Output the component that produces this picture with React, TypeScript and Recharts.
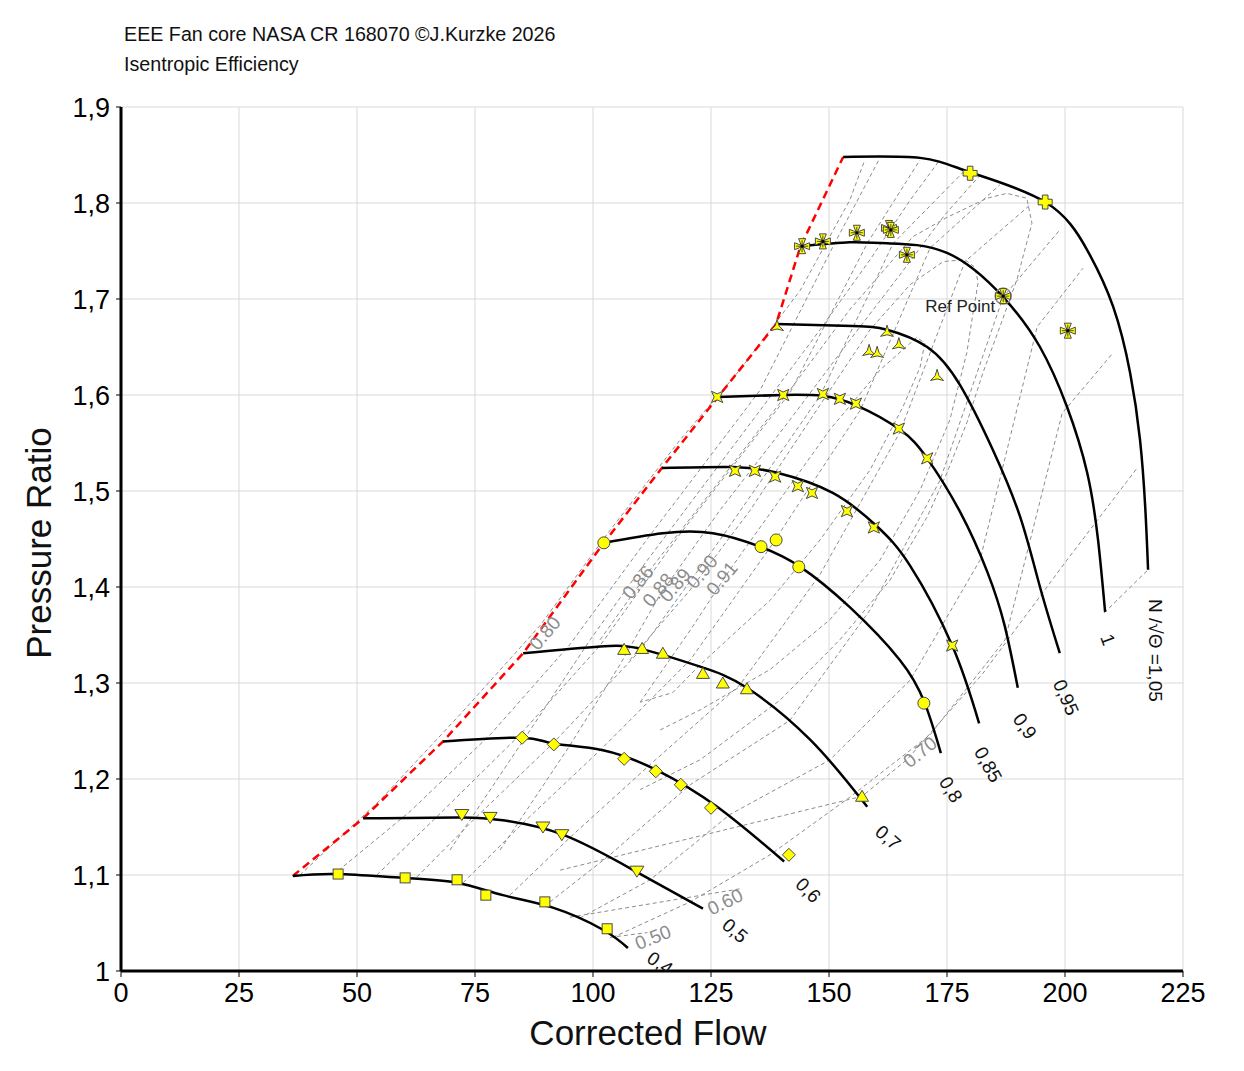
import React from "react";
import { ComposedChart, Line, Scatter, XAxis, YAxis, CartesianGrid } from "recharts";

type P = { x: number; y: number };
type L = { x: number; y: number; text: string };

const FONT = "'Liberation Sans', Arial, sans-serif";

// speed lines N/sqrt(theta)
const speed040: P[] = [
  { x: 36.4, y: 1.099 }, { x: 45.8, y: 1.101 }, { x: 59.7, y: 1.097 }, { x: 71.2, y: 1.092 },
  { x: 80.9, y: 1.079 }, { x: 91.5, y: 1.066 }, { x: 102.1, y: 1.043 }, { x: 107.4, y: 1.024 },
];
const speed050: P[] = [
  { x: 51.3, y: 1.159 }, { x: 72.2, y: 1.160 }, { x: 80.9, y: 1.157 }, { x: 93.6, y: 1.142 },
  { x: 109.3, y: 1.103 }, { x: 123.3, y: 1.065 },
];
const speed060: P[] = [
  { x: 68.2, y: 1.239 }, { x: 85.0, y: 1.243 }, { x: 91.5, y: 1.237 }, { x: 102.1, y: 1.230 },
  { x: 113.6, y: 1.209 }, { x: 126.3, y: 1.171 }, { x: 140.5, y: 1.114 },
];
const speed070: P[] = [
  { x: 85.2, y: 1.331 }, { x: 101.5, y: 1.338 }, { x: 110.6, y: 1.335 }, { x: 122.7, y: 1.317 },
  { x: 132.6, y: 1.295 }, { x: 146.0, y: 1.241 }, { x: 158.1, y: 1.171 },
];
const speed080: P[] = [
  { x: 102.3, y: 1.446 }, { x: 114.8, y: 1.456 }, { x: 125.4, y: 1.456 }, { x: 135.4, y: 1.442 },
  { x: 143.9, y: 1.421 }, { x: 154.4, y: 1.379 }, { x: 165.0, y: 1.324 }, { x: 170.3, y: 1.279 },
  { x: 173.7, y: 1.227 },
];
const speed085: P[] = [
  { x: 114.6, y: 1.524 }, { x: 129.7, y: 1.525 }, { x: 139.0, y: 1.519 }, { x: 150.8, y: 1.498 },
  { x: 160.2, y: 1.463 }, { x: 167.2, y: 1.422 }, { x: 176.1, y: 1.339 }, { x: 181.8, y: 1.258 },
];
const speed090: P[] = [
  { x: 126.5, y: 1.598 }, { x: 140.3, y: 1.600 }, { x: 148.7, y: 1.599 }, { x: 155.9, y: 1.589 },
  { x: 165.0, y: 1.564 }, { x: 170.8, y: 1.534 }, { x: 177.8, y: 1.478 }, { x: 183.6, y: 1.415 },
  { x: 187.2, y: 1.360 }, { x: 190.0, y: 1.295 },
];
const speed095: P[] = [
  { x: 138.8, y: 1.674 }, { x: 155.0, y: 1.672 }, { x: 162.3, y: 1.668 }, { x: 170.8, y: 1.650 },
  { x: 177.8, y: 1.610 }, { x: 184.7, y: 1.543 }, { x: 190.5, y: 1.473 }, { x: 194.7, y: 1.400 },
  { x: 198.9, y: 1.331 },
];
const speed100: P[] = [
  { x: 144.3, y: 1.755 }, { x: 154.4, y: 1.759 }, { x: 162.3, y: 1.758 }, { x: 175.0, y: 1.748 },
  { x: 186.9, y: 1.702 }, { x: 194.7, y: 1.650 }, { x: 200.4, y: 1.588 }, { x: 204.7, y: 1.519 },
  { x: 207.0, y: 1.449 }, { x: 208.5, y: 1.374 },
];
const speed105: P[] = [
  { x: 153.0, y: 1.848 }, { x: 169.3, y: 1.847 }, { x: 179.9, y: 1.832 }, { x: 195.8, y: 1.801 },
  { x: 204.7, y: 1.751 }, { x: 210.2, y: 1.692 }, { x: 213.8, y: 1.623 }, { x: 215.9, y: 1.553 },
  { x: 217.0, y: 1.483 }, { x: 217.6, y: 1.418 },
];

const surgeLine: P[] = [
  { x: 36.4, y: 1.099 }, { x: 51.3, y: 1.159 }, { x: 68.2, y: 1.239 }, { x: 85.2, y: 1.331 },
  { x: 102.3, y: 1.446 }, { x: 114.6, y: 1.524 }, { x: 126.5, y: 1.598 }, { x: 138.8, y: 1.674 },
  { x: 143.9, y: 1.754 }, { x: 153.0, y: 1.848 },
];

// beta lines (gray dashed)
const beta1: P[] = [
  { x: 44.9, y: 1.100 }, { x: 61.2, y: 1.166 }, { x: 78.2, y: 1.246 }, { x: 95.1, y: 1.340 },
  { x: 112.1, y: 1.454 }, { x: 135.4, y: 1.605 }, { x: 151.3, y: 1.759 }, { x: 160.8, y: 1.847 },
];
const beta2: P[] = [
  { x: 54.2, y: 1.100 }, { x: 67.6, y: 1.164 }, { x: 84.5, y: 1.246 }, { x: 101.5, y: 1.339 },
  { x: 118.4, y: 1.455 }, { x: 141.7, y: 1.602 }, { x: 158.1, y: 1.758 }, { x: 169.3, y: 1.845 },
];
const beta3: P[] = [
  { x: 62.7, y: 1.098 }, { x: 75.0, y: 1.159 }, { x: 91.9, y: 1.239 }, { x: 110.0, y: 1.334 },
  { x: 126.9, y: 1.449 }, { x: 148.1, y: 1.599 }, { x: 163.6, y: 1.758 }, { x: 178.4, y: 1.832 },
];
const beta4: P[] = [
  { x: 72.5, y: 1.092 }, { x: 84.5, y: 1.151 }, { x: 101.5, y: 1.230 }, { x: 120.6, y: 1.324 },
  { x: 137.5, y: 1.441 }, { x: 156.6, y: 1.584 }, { x: 171.4, y: 1.753 }, { x: 186.2, y: 1.819 },
];
const beta5: P[] = [
  { x: 82.4, y: 1.079 }, { x: 95.1, y: 1.139 }, { x: 112.1, y: 1.215 }, { x: 131.1, y: 1.298 },
  { x: 148.1, y: 1.413 }, { x: 165.0, y: 1.561 }, { x: 178.8, y: 1.739 }, { x: 192.6, y: 1.798 },
];
const beta6: P[] = [
  { x: 90.9, y: 1.072 }, { x: 103.6, y: 1.121 }, { x: 120.6, y: 1.194 }, { x: 141.7, y: 1.261 },
  { x: 158.7, y: 1.376 }, { x: 173.5, y: 1.511 }, { x: 186.9, y: 1.702 }, { x: 198.9, y: 1.772 },
];
const beta7: P[] = [
  { x: 97.2, y: 1.055 }, { x: 112.1, y: 1.095 }, { x: 129.0, y: 1.163 }, { x: 150.2, y: 1.220 },
  { x: 167.2, y: 1.303 }, { x: 182.0, y: 1.428 }, { x: 194.1, y: 1.671 }, { x: 203.8, y: 1.732 },
];
const beta8: P[] = [
  { x: 104.2, y: 1.035 }, { x: 120.6, y: 1.072 }, { x: 137.5, y: 1.121 }, { x: 154.4, y: 1.181 },
  { x: 171.4, y: 1.246 }, { x: 187.3, y: 1.345 }, { x: 199.4, y: 1.581 }, { x: 210.2, y: 1.644 },
];
const betaEnd: P[] = [{ x: 208.3, y: 1.373 }, { x: 217.6, y: 1.418 }];

// efficiency contours (gray dashed)
const eff050: P[] = [{ x: 103.6, y: 1.035 }, { x: 111.5, y: 1.040 }];
const eff060: P[] = [{ x: 95.1, y: 1.056 }, { x: 131.6, y: 1.086 }];
const eff070: P[] = [
  { x: 93.0, y: 1.105 }, { x: 157.0, y: 1.182 }, { x: 166.5, y: 1.220 }, { x: 182.6, y: 1.310 },
  { x: 200.4, y: 1.428 }, { x: 215.3, y: 1.524 },
];
const eff080: P[] = [
  { x: 37.9, y: 1.100 }, { x: 54.9, y: 1.178 }, { x: 71.8, y: 1.267 }, { x: 88.8, y: 1.360 },
  { x: 103.6, y: 1.459 }, { x: 118.4, y: 1.553 }, { x: 131.1, y: 1.626 }, { x: 143.9, y: 1.709 },
  { x: 154.4, y: 1.803 }, { x: 157.6, y: 1.845 },
];
const eff086: P[] = [
  { x: 69.7, y: 1.126 }, { x: 86.7, y: 1.251 }, { x: 99.4, y: 1.345 }, { x: 110.0, y: 1.418 },
  { x: 122.7, y: 1.501 }, { x: 135.4, y: 1.584 }, { x: 148.1, y: 1.668 }, { x: 158.7, y: 1.741 },
  { x: 167.2, y: 1.803 }, { x: 173.5, y: 1.845 },
];
const eff088: P[] = [
  { x: 80.3, y: 1.126 }, { x: 95.1, y: 1.235 }, { x: 105.7, y: 1.319 }, { x: 114.2, y: 1.392 },
  { x: 126.9, y: 1.480 }, { x: 141.7, y: 1.574 }, { x: 154.4, y: 1.657 }, { x: 165.0, y: 1.725 },
  { x: 174.6, y: 1.788 }, { x: 182.0, y: 1.829 },
];
const eff089: P[] = [
  { x: 101.5, y: 1.345 }, { x: 112.1, y: 1.418 }, { x: 126.9, y: 1.511 }, { x: 141.7, y: 1.605 },
  { x: 154.4, y: 1.689 }, { x: 167.8, y: 1.765 }, { x: 175.0, y: 1.785 }, { x: 183.5, y: 1.805 },
  { x: 187.7, y: 1.810 }, { x: 191.9, y: 1.805 }, { x: 193.0, y: 1.779 }, { x: 189.8, y: 1.720 },
  { x: 186.2, y: 1.671 }, { x: 182.6, y: 1.623 }, { x: 179.2, y: 1.571 }, { x: 175.0, y: 1.519 },
  { x: 170.8, y: 1.473 }, { x: 162.9, y: 1.407 }, { x: 152.3, y: 1.345 }, { x: 139.6, y: 1.282 },
  { x: 122.7, y: 1.220 }, { x: 110.0, y: 1.189 },
];
const eff090: P[] = [
  { x: 107.8, y: 1.324 }, { x: 120.6, y: 1.397 }, { x: 133.3, y: 1.480 }, { x: 146.0, y: 1.574 },
  { x: 158.7, y: 1.668 }, { x: 167.2, y: 1.715 }, { x: 174.2, y: 1.739 }, { x: 178.8, y: 1.741 },
  { x: 180.9, y: 1.733 }, { x: 181.6, y: 1.717 }, { x: 180.5, y: 1.685 }, { x: 179.2, y: 1.644 },
  { x: 175.6, y: 1.574 }, { x: 169.3, y: 1.501 }, { x: 160.8, y: 1.428 }, { x: 150.2, y: 1.366 },
  { x: 137.5, y: 1.314 }, { x: 122.7, y: 1.272 }, { x: 114.2, y: 1.251 },
];
const eff091: P[] = [
  { x: 110.0, y: 1.280 }, { x: 120.6, y: 1.355 }, { x: 129.0, y: 1.418 }, { x: 139.6, y: 1.491 },
  { x: 150.2, y: 1.564 }, { x: 160.8, y: 1.626 }, { x: 168.6, y: 1.660 }, { x: 170.3, y: 1.654 },
  { x: 169.3, y: 1.629 }, { x: 165.7, y: 1.588 }, { x: 158.7, y: 1.522 }, { x: 148.1, y: 1.449 },
  { x: 137.5, y: 1.386 }, { x: 122.7, y: 1.319 }, { x: 116.9, y: 1.290 }, { x: 110.0, y: 1.280 },
];

// measured points per speed
const pts040: P[] = [
  { x: 46.0, y: 1.101 }, { x: 60.2, y: 1.097 }, { x: 71.2, y: 1.095 }, { x: 77.3, y: 1.079 },
  { x: 89.8, y: 1.072 }, { x: 103.0, y: 1.044 },
];
const pts050: P[] = [
  { x: 72.2, y: 1.163 }, { x: 78.2, y: 1.160 }, { x: 89.4, y: 1.150 }, { x: 93.4, y: 1.142 },
  { x: 109.3, y: 1.104 },
];
const pts060: P[] = [
  { x: 85.0, y: 1.243 }, { x: 91.7, y: 1.236 }, { x: 106.6, y: 1.221 }, { x: 113.3, y: 1.208 },
  { x: 118.6, y: 1.194 }, { x: 125.0, y: 1.170 }, { x: 141.5, y: 1.121 },
];
const pts070: P[] = [
  { x: 106.6, y: 1.335 }, { x: 110.4, y: 1.336 }, { x: 114.8, y: 1.331 }, { x: 123.3, y: 1.310 },
  { x: 127.5, y: 1.300 }, { x: 132.6, y: 1.294 }, { x: 157.0, y: 1.182 },
];
const pts080: P[] = [
  { x: 102.3, y: 1.446 }, { x: 135.6, y: 1.442 }, { x: 138.8, y: 1.449 }, { x: 143.6, y: 1.421 },
  { x: 170.1, y: 1.279 },
];
const pts085: P[] = [
  { x: 130.1, y: 1.521 }, { x: 134.3, y: 1.521 }, { x: 138.6, y: 1.515 }, { x: 143.4, y: 1.505 },
  { x: 146.4, y: 1.498 }, { x: 153.8, y: 1.479 }, { x: 159.5, y: 1.462 }, { x: 176.1, y: 1.339 },
];
const pts090: P[] = [
  { x: 126.3, y: 1.598 }, { x: 140.3, y: 1.600 }, { x: 148.7, y: 1.601 }, { x: 152.3, y: 1.596 },
  { x: 155.7, y: 1.591 }, { x: 164.8, y: 1.565 }, { x: 170.8, y: 1.534 },
];
const pts095: P[] = [
  { x: 139.0, y: 1.671 }, { x: 162.3, y: 1.665 }, { x: 158.5, y: 1.645 }, { x: 160.2, y: 1.643 },
  { x: 164.8, y: 1.652 }, { x: 172.9, y: 1.619 },
];
const pts100: P[] = [
  { x: 144.3, y: 1.755 }, { x: 148.7, y: 1.760 }, { x: 155.9, y: 1.769 }, { x: 162.7, y: 1.774 },
  { x: 163.1, y: 1.772 }, { x: 166.5, y: 1.746 }, { x: 186.9, y: 1.703 }, { x: 200.6, y: 1.667 },
];
const pts105: P[] = [{ x: 179.9, y: 1.831 }, { x: 195.8, y: 1.801 }];
const refPoint: P[] = [{ x: 186.9, y: 1.703 }];

const speedLabels: L[] = [
  { x: 114.2, y: 1.008, text: "0,4" }, { x: 130.1, y: 1.042, text: "0,5" },
  { x: 145.6, y: 1.084, text: "0,6" }, { x: 162.5, y: 1.139, text: "0,7" },
  { x: 175.8, y: 1.189, text: "0,8" }, { x: 183.7, y: 1.215, text: "0,85" },
  { x: 191.5, y: 1.255, text: "0,9" }, { x: 200.2, y: 1.285, text: "0,95" },
  { x: 209.1, y: 1.345, text: "1" }, { x: 219.1, y: 1.334, text: "N /\u221A\u0398 =1,05" },
];
const effLabels: L[] = [
  { x: 89.8, y: 1.352, text: "0.80" }, { x: 109.5, y: 1.405, text: "0.86" },
  { x: 113.8, y: 1.397, text: "0.88" }, { x: 117.4, y: 1.402, text: "0.89" },
  { x: 123.1, y: 1.416, text: "0.90" }, { x: 127.3, y: 1.409, text: "0.91" },
  { x: 169.3, y: 1.228, text: "0.70" }, { x: 128.0, y: 1.072, text: "0.60" },
  { x: 112.7, y: 1.035, text: "0.50" },
];
const refLabel: L[] = [{ x: 177.8, y: 1.692, text: "Ref Point" }];

const labelAngle: Record<string, number> = {
  "0,4": 34, "0,5": 41, "0,6": 45, "0,7": 41, "0,8": 58, "0,85": 61, "0,9": 55, "0,95": 66,
  "1": 70, "N /\u221A\u0398 =1,05": 90,
  "0.80": -50, "0.86": -50, "0.88": -50, "0.89": -50, "0.90": -50, "0.91": -50,
  "0.70": -39, "0.60": -26, "0.50": -22,
};

const xTicks = [0, 25, 50, 75, 100, 125, 150, 175, 200, 225];
const yTicks = [1, 1.1, 1.2, 1.3, 1.4, 1.5, 1.6, 1.7, 1.8, 1.9];

const speedLines = [speed040, speed050, speed060, speed070, speed080, speed085, speed090, speed095, speed100, speed105];
const dashedLines = [
  beta1, beta2, beta3, beta4, beta5, beta6, beta7, beta8, betaEnd,
  eff050, eff060, eff070, eff080, eff086, eff088, eff089, eff090, eff091,
];

const YEL = "#ffff00";
const EDGE = "#4a4a4a";

function star(cx: number, cy: number, n: number, ro: number, ri: number, rot: number) {
  const pts: string[] = [];
  for (let i = 0; i < n * 2; i++) {
    const r = i % 2 === 0 ? ro : ri;
    const a = ((rot + (i * 180) / n) * Math.PI) / 180;
    pts.push(`${cx + r * Math.sin(a)},${cy - r * Math.cos(a)}`);
  }
  return pts.join(" ");
}

function marker(kind: string) {
  return (props: any) => {
    const { cx, cy } = props;
    if (cx == null || cy == null) return <g />;
    const common = { fill: YEL, stroke: EDGE, strokeWidth: 1 };
    switch (kind) {
      case "square":
        return <rect x={cx - 5} y={cy - 5} width={10} height={10} {...common} />;
      case "circle":
        return <circle cx={cx} cy={cy} r={6} {...common} />;
      case "diamond":
        return <polygon points={`${cx},${cy - 6.5} ${cx + 6.5},${cy} ${cx},${cy + 6.5} ${cx - 6.5},${cy}`} {...common} />;
      case "triUp":
        return <polygon points={`${cx},${cy - 6} ${cx + 6.5},${cy + 5} ${cx - 6.5},${cy + 5}`} {...common} />;
      case "triDown":
        return <polygon points={`${cx - 7},${cy - 5} ${cx + 7},${cy - 5} ${cx},${cy + 6}`} {...common} />;
      case "star4":
        return <polygon points={star(cx, cy, 4, 8, 3, 45)} {...common} />;
      case "star3":
        return <polygon points={star(cx, cy, 3, 7.5, 2.2, 0)} {...common} />;
      case "maltese": {
        const d = [
          [-3.5, -7.5], [3.5, -7.5], [0.8, -0.8], [7.5, -3.5], [7.5, 3.5], [0.8, 0.8], [3.5, 7.5], [-3.5, 7.5],
          [-0.8, 0.8], [-7.5, 3.5], [-7.5, -3.5], [-0.8, -0.8],
        ].map(([a, b]) => `${cx + a},${cy + b}`).join(" ");
        return (
          <g>
            <polygon points={d} {...common} />
            <line x1={cx} y1={cy - 6} x2={cx} y2={cy + 6} stroke="#222" strokeWidth={0.8} />
            <line x1={cx - 6} y1={cy} x2={cx + 6} y2={cy} stroke="#222" strokeWidth={0.8} />
            <circle cx={cx} cy={cy} r={1.6} fill="#000" />
          </g>
        );
      }
      case "plus": {
        const w = 2.8, l = 7;
        const d = [
          [-w, -l], [w, -l], [w, -w], [l, -w], [l, w], [w, w], [w, l], [-w, l], [-w, w], [-l, w], [-l, -w], [-w, -w],
        ].map(([a, b]) => `${cx + a},${cy + b}`).join(" ");
        return <polygon points={d} {...common} />;
      }
      case "ring":
        return <circle cx={cx} cy={cy} r={8} fill="none" stroke="#8a8a8a" strokeWidth={1.5} />;
      default:
        return <g />;
    }
  };
}

function textShape(size: number, color: string) {
  return (props: any) => {
    const { cx, cy, payload } = props;
    if (cx == null || cy == null) return <g />;
    const angle = labelAngle[payload.text] ?? 0;
    return (
      <text
        x={cx}
        y={cy}
        transform={`rotate(${angle} ${cx} ${cy})`}
        textAnchor="middle"
        dominantBaseline="central"
        fontSize={size}
        fontFamily={FONT}
        fill={color}
      >
        {payload.text}
      </text>
    );
  };
}

const fmtY = (v: number) => String(Number(v.toFixed(1))).replace(".", ",");

export default function App() {
  return (
    <div style={{ position: "relative", width: 1228, height: 1050, fontFamily: FONT, color: "#111" }}>
      <div style={{ position: "absolute", left: 116, top: 16, fontSize: 19.7, lineHeight: "20px", whiteSpace: "nowrap" }}>
        EEE Fan core NASA CR 168070 ©J.Kurzke 2026
      </div>
      <div style={{ position: "absolute", left: 116, top: 46, fontSize: 19.7, lineHeight: "20px", whiteSpace: "nowrap" }}>
        Isentropic Efficiency
      </div>
      <ComposedChart
        width={1228}
        height={1050}
        margin={{ top: 99, right: 53, bottom: 27, left: 0 }}
      >
        <CartesianGrid stroke="#d9d9d9" strokeWidth={1} />
        <XAxis
          type="number"
          dataKey="x"
          domain={[0, 225]}
          ticks={xTicks}
          allowDataOverflow
          height={60}
          axisLine={{ stroke: "#000", strokeWidth: 3 }}
          tickLine={{ stroke: "#000" }}
          tickSize={6}
          tickMargin={6}
          tick={{ fontSize: 27, fill: "#000", fontFamily: FONT }}
        />
        <YAxis
          type="number"
          dataKey="y"
          domain={[1, 1.9]}
          ticks={yTicks}
          allowDataOverflow
          width={113}
          tickFormatter={fmtY}
          axisLine={{ stroke: "#000", strokeWidth: 3 }}
          tickLine={{ stroke: "#000" }}
          tickSize={5}
          tickMargin={6}
          tick={{ fontSize: 27, fill: "#000", fontFamily: FONT }}
        />
        {dashedLines.map((d, i) => (
          <Line
            key={`dash${i}`}
            data={d}
            dataKey="y"
            type="linear"
            stroke="#8c8c8c"
            strokeWidth={1}
            strokeDasharray="4 3"
            dot={false}
            activeDot={false}
            isAnimationActive={false}
          />
        ))}
        <Line
          data={surgeLine}
          dataKey="y"
          type="linear"
          stroke="#ff0000"
          strokeWidth={2.5}
          strokeDasharray="8 5"
          dot={false}
          activeDot={false}
          isAnimationActive={false}
        />
        {speedLines.map((d, i) => (
          <Line
            key={`speed${i}`}
            data={d}
            dataKey="y"
            type="natural"
            stroke="#000"
            strokeWidth={2.5}
            dot={false}
            activeDot={false}
            isAnimationActive={false}
          />
        ))}
        <Scatter data={refPoint} shape={marker("ring")} isAnimationActive={false} />
        <Scatter data={pts040} shape={marker("square")} isAnimationActive={false} />
        <Scatter data={pts050} shape={marker("triDown")} isAnimationActive={false} />
        <Scatter data={pts060} shape={marker("diamond")} isAnimationActive={false} />
        <Scatter data={pts070} shape={marker("triUp")} isAnimationActive={false} />
        <Scatter data={pts080} shape={marker("circle")} isAnimationActive={false} />
        <Scatter data={pts085} shape={marker("star4")} isAnimationActive={false} />
        <Scatter data={pts090} shape={marker("star4")} isAnimationActive={false} />
        <Scatter data={pts095} shape={marker("star3")} isAnimationActive={false} />
        <Scatter data={pts100} shape={marker("maltese")} isAnimationActive={false} />
        <Scatter data={pts105} shape={marker("plus")} isAnimationActive={false} />
        <Scatter data={speedLabels} shape={textShape(19, "#111")} isAnimationActive={false} />
        <Scatter data={effLabels} shape={textShape(19, "#8c8c8c")} isAnimationActive={false} />
        <Scatter data={refLabel} shape={textShape(17, "#222")} isAnimationActive={false} />
      </ComposedChart>
      <div
        style={{
          position: "absolute", left: 30, top: 535, fontSize: 35, lineHeight: "35px", whiteSpace: "nowrap",
          transform: "translate(-50%, -50%) rotate(-90deg)",
        }}
      >
        Pressure Ratio
      </div>
      <div
        style={{
          position: "absolute", left: 640, top: 1007, fontSize: 35, lineHeight: "35px", whiteSpace: "nowrap",
          transform: "translateX(-50%)",
        }}
      >
        Corrected Flow
      </div>
    </div>
  );
}
